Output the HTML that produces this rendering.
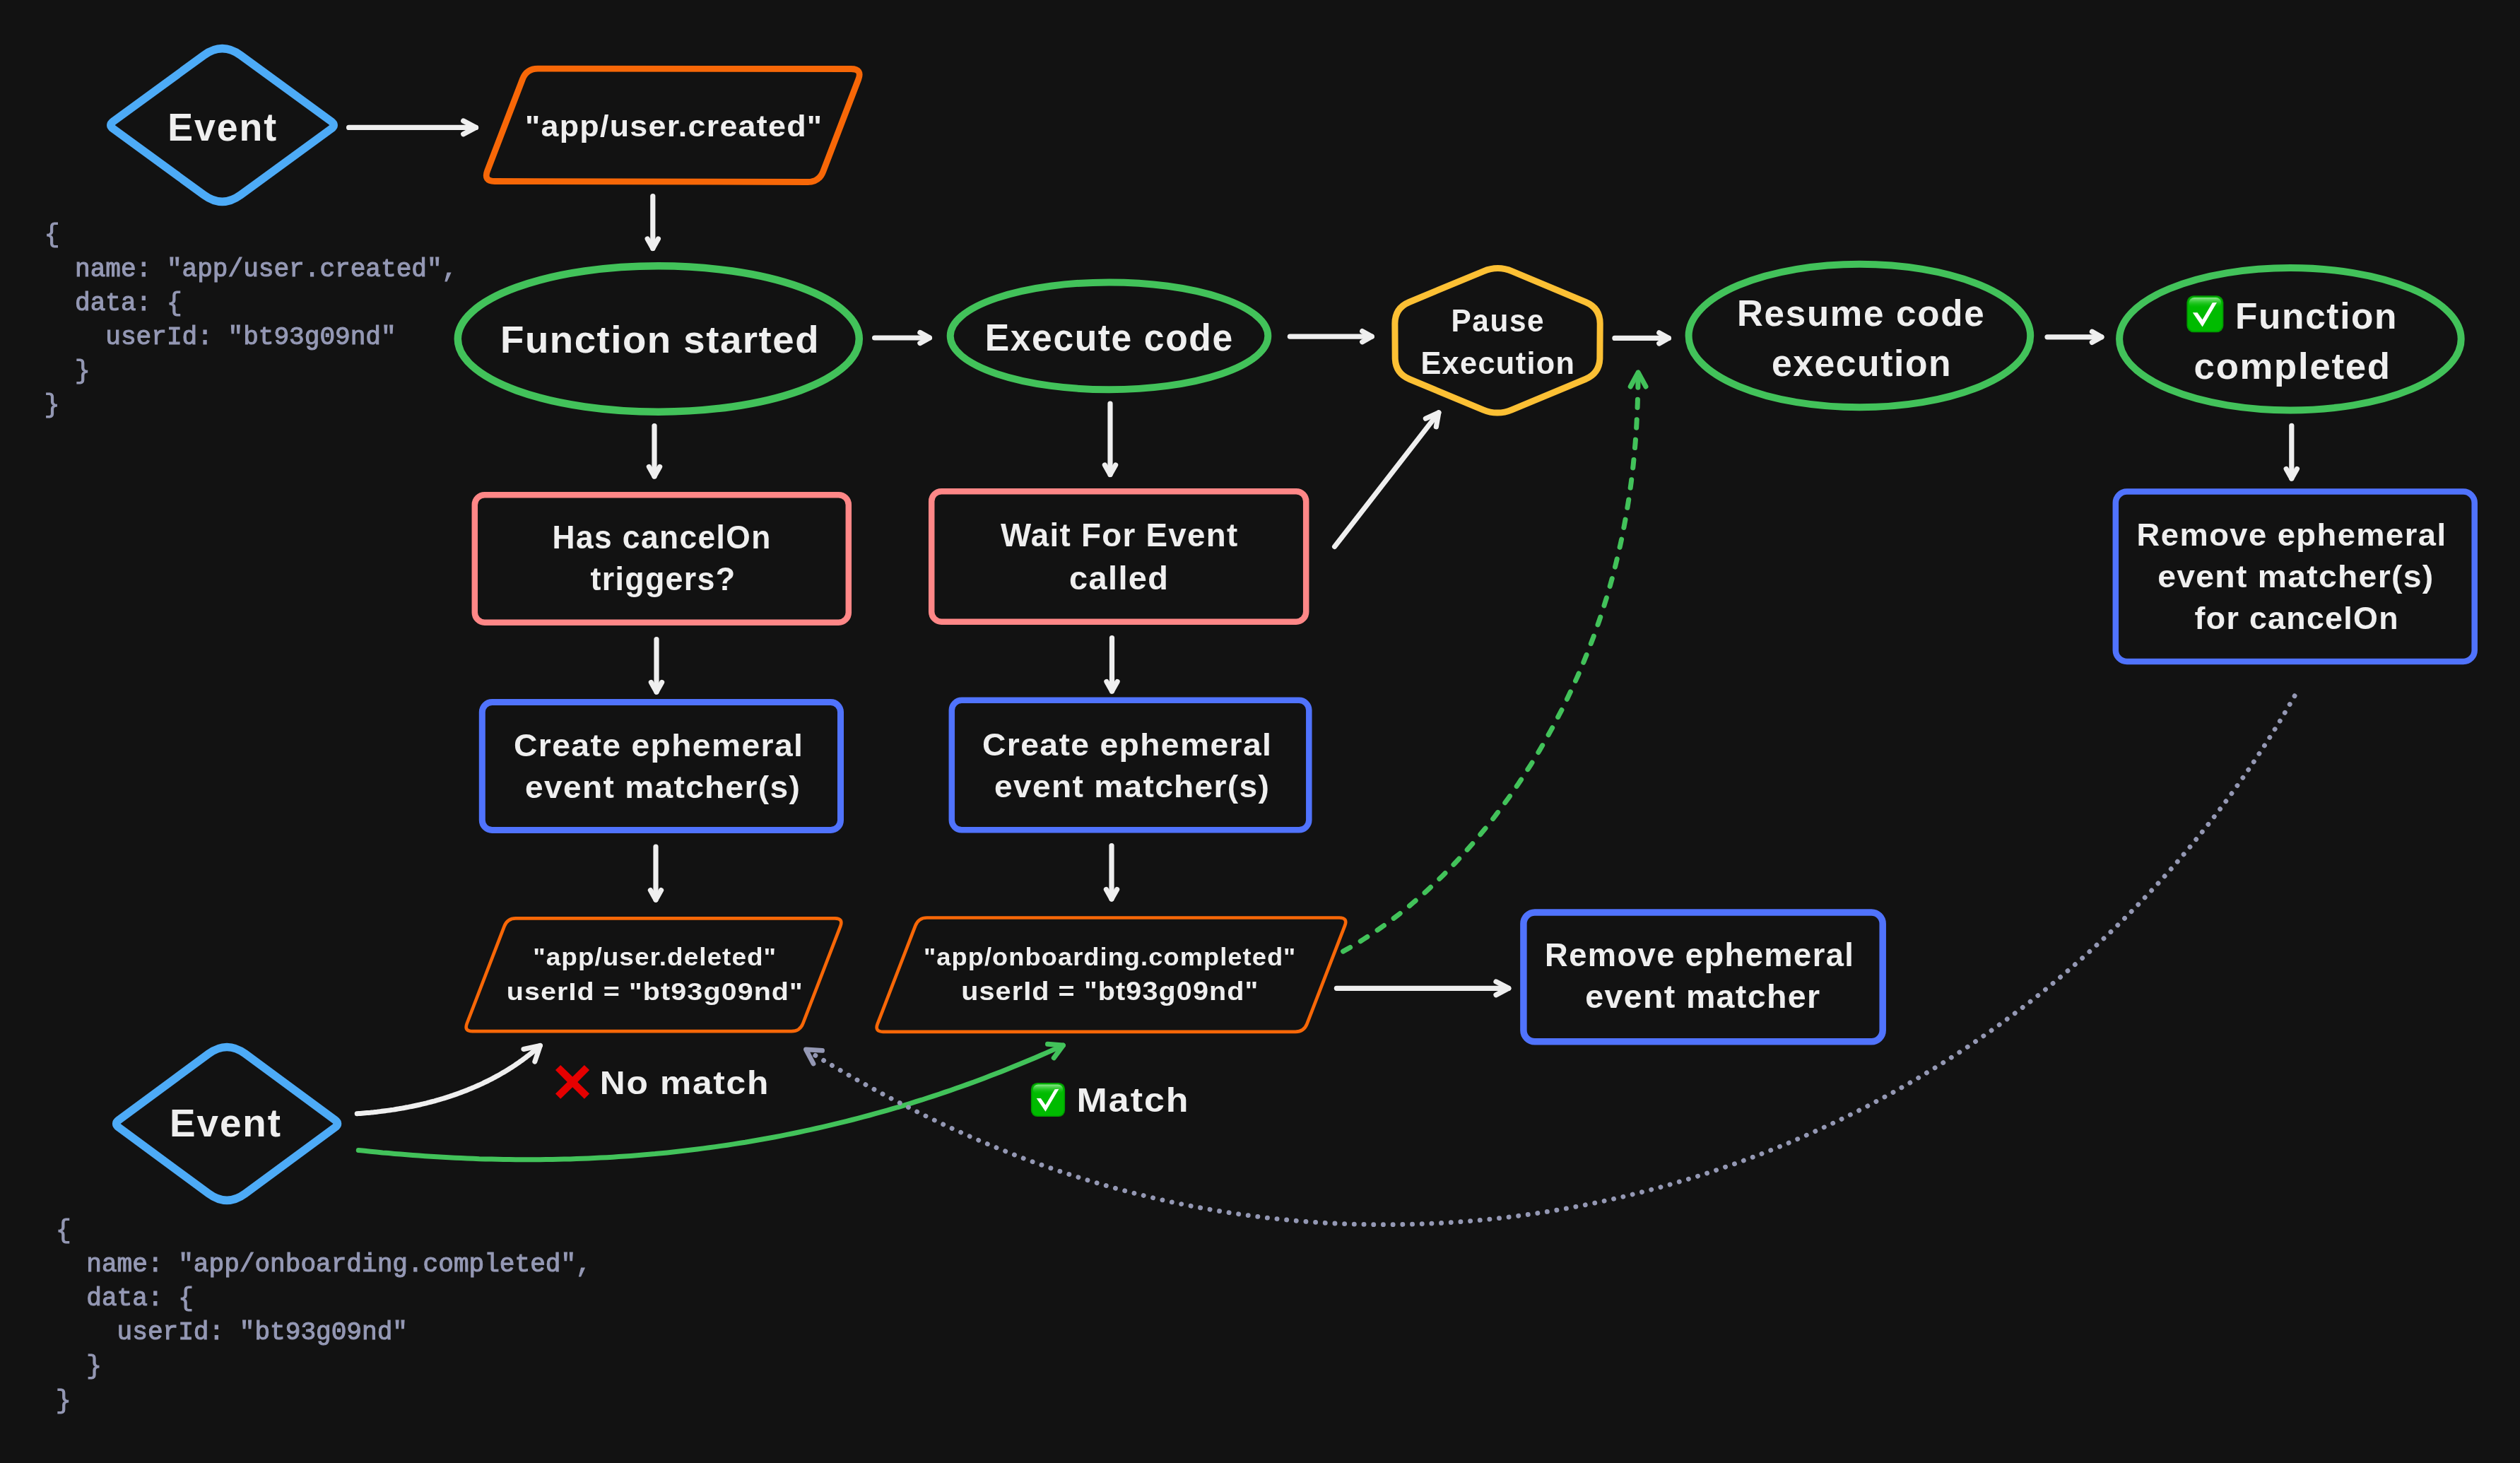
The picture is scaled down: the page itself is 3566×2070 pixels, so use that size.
<!DOCTYPE html>
<html><head><meta charset="utf-8"><title>Diagram</title>
<style>html,body{margin:0;padding:0;background:#121212;overflow:hidden}svg{display:block;will-change:transform}</style>
</head><body>
<svg width="3566" height="2070" viewBox="0 0 3566 2070">
<defs><linearGradient id="hl" x1="0" y1="0" x2="0" y2="1"><stop offset="0" stop-color="#a8f0a8" stop-opacity="0.85"/><stop offset="1" stop-color="#00bb00" stop-opacity="0"/></linearGradient></defs>
<rect width="3566" height="2070" fill="#121212"/>
<path d="M340.4,78.1 L468.7,171.7 Q476,177 468.7,182.3 L340.4,275.9 Q314.5,294.8 288.6,275.9 L160.3,182.3 Q153,177 160.3,171.7 L288.6,78.1 Q314.5,59.2 340.4,78.1 Z" fill="none" stroke="#4dabf7" stroke-width="11.3" stroke-linejoin="round"/>
<path d="M761.1,97.2 L1204.4,97.5 Q1220.4,97.5 1214.7,112.4 L1164.8,242.6 Q1159.1,257.5 1143.1,257.5 L700,256.5 Q684,256.5 689.7,241.6 L739.4,112.1 Q745.1,97.2 761.1,97.2 Z" fill="none" stroke="#f76707" stroke-width="8.8" stroke-linejoin="round"/>
<ellipse cx="931.8" cy="479.5" rx="284" ry="103.2" fill="none" stroke="#42c25a" stroke-width="10.5"/>
<ellipse cx="1569.5" cy="475.3" rx="224.8" ry="75.9" fill="none" stroke="#42c25a" stroke-width="10"/>
<ellipse cx="2631.4" cy="475" rx="241.8" ry="101.3" fill="none" stroke="#42c25a" stroke-width="10"/>
<ellipse cx="3240.9" cy="479.7" rx="241.8" ry="100.7" fill="none" stroke="#42c25a" stroke-width="10"/>
<path d="M2139.8,383.8 L2244,427.5 Q2264.3,436 2264.2,458 L2263.9,506 Q2263.8,528 2243.5,536.5 L2139.3,579.8 Q2119,588.3 2098.7,579.8 L1994.6,536.5 Q1974.3,528 1974.2,506 L1973.9,458 Q1973.8,436 1994.1,427.5 L2099.2,383.8 Q2119.5,375.3 2139.8,383.8 Z" fill="none" stroke="#fcc034" stroke-width="9" stroke-linejoin="round"/>
<rect x="671.8" y="700.2" width="529" height="180.5" rx="14" fill="none" stroke="#ff8787" stroke-width="8.5"/>
<rect x="1318.2" y="695.2" width="530" height="184.5" rx="14" fill="none" stroke="#ff8787" stroke-width="8.5"/>
<rect x="682.3" y="993.5" width="507.2" height="181" rx="14" fill="none" stroke="#5073fd" stroke-width="9"/>
<rect x="1346.8" y="990.8" width="505.5" height="183.5" rx="14" fill="none" stroke="#5073fd" stroke-width="8.5"/>
<rect x="2155.9" y="1291" width="508.3" height="182.8" rx="16" fill="none" stroke="#5073fd" stroke-width="9.5"/>
<rect x="2993.8" y="695.6" width="507.9" height="240.3" rx="16" fill="none" stroke="#5073fd" stroke-width="8.5"/>
<path d="M729.9,1299.4 L1181.5,1299.4 Q1193.5,1299.4 1189.2,1310.6 L1136.3,1448 Q1132,1459.2 1120,1459.2 L668.5,1459.2 Q656.5,1459.2 660.8,1448 L713.6,1310.6 Q717.9,1299.4 729.9,1299.4 Z" fill="none" stroke="#f76707" stroke-width="4.7" stroke-linejoin="round"/>
<path d="M1311.7,1298.5 L1895.4,1298.5 Q1907.4,1298.5 1903.1,1309.7 L1849.5,1448.6 Q1845.2,1459.8 1833.2,1459.8 L1249.5,1459.8 Q1237.5,1459.8 1241.8,1448.6 L1295.4,1309.7 Q1299.7,1298.5 1311.7,1298.5 Z" fill="none" stroke="#f76707" stroke-width="4.7" stroke-linejoin="round"/>
<path d="M346.9,1490.9 L474,1584.6 Q481.3,1589.9 474,1595.2 L346.9,1688.9 Q321.1,1707.8 295.3,1688.9 L168.2,1595.2 Q160.9,1589.9 168.2,1584.6 L295.3,1490.9 Q321.1,1472 346.9,1490.9 Z" fill="none" stroke="#4dabf7" stroke-width="11.3" stroke-linejoin="round"/>
<path d="M493.6,180.4 L673.5,180.4" stroke="#efefef" stroke-width="7.2" stroke-linecap="round"/>
<path d="M655.7,189.8 L673.5,180.4 L655.7,171" fill="none" stroke="#efefef" stroke-width="7.2" stroke-linecap="round" stroke-linejoin="round"/>
<path d="M923.8,277.6 L923.8,351.4" stroke="#efefef" stroke-width="7.2" stroke-linecap="round"/>
<path d="M916.2,337.9 L923.8,351.4 L931.4,337.9" fill="none" stroke="#efefef" stroke-width="7.2" stroke-linecap="round" stroke-linejoin="round"/>
<path d="M1237.6,478 L1315.4,478" stroke="#efefef" stroke-width="7.2" stroke-linecap="round"/>
<path d="M1301.9,485.6 L1315.4,478 L1301.9,470.4" fill="none" stroke="#efefef" stroke-width="7.2" stroke-linecap="round" stroke-linejoin="round"/>
<path d="M1825.4,476.2 L1941.2,476.2" stroke="#efefef" stroke-width="7.2" stroke-linecap="round"/>
<path d="M1927.7,483.8 L1941.2,476.2 L1927.7,468.6" fill="none" stroke="#efefef" stroke-width="7.2" stroke-linecap="round" stroke-linejoin="round"/>
<path d="M2284.9,478.4 L2361.3,478.4" stroke="#efefef" stroke-width="7.2" stroke-linecap="round"/>
<path d="M2347.8,486 L2361.3,478.4 L2347.8,470.8" fill="none" stroke="#efefef" stroke-width="7.2" stroke-linecap="round" stroke-linejoin="round"/>
<path d="M2897,476.8 L2973.9,476.8" stroke="#efefef" stroke-width="7.2" stroke-linecap="round"/>
<path d="M2960.4,484.4 L2973.9,476.8 L2960.4,469.2" fill="none" stroke="#efefef" stroke-width="7.2" stroke-linecap="round" stroke-linejoin="round"/>
<path d="M926,602.6 L926,673.9" stroke="#efefef" stroke-width="7.2" stroke-linecap="round"/>
<path d="M918.4,660.4 L926,673.9 L933.6,660.4" fill="none" stroke="#efefef" stroke-width="7.2" stroke-linecap="round" stroke-linejoin="round"/>
<path d="M1571,571.1 L1571,671.4" stroke="#efefef" stroke-width="7.2" stroke-linecap="round"/>
<path d="M1563.4,657.9 L1571,671.4 L1578.6,657.9" fill="none" stroke="#efefef" stroke-width="7.2" stroke-linecap="round" stroke-linejoin="round"/>
<path d="M929,904.6 L929,978.9" stroke="#efefef" stroke-width="7.2" stroke-linecap="round"/>
<path d="M921.4,965.4 L929,978.9 L936.6,965.4" fill="none" stroke="#efefef" stroke-width="7.2" stroke-linecap="round" stroke-linejoin="round"/>
<path d="M1573.5,902.6 L1573.5,977.9" stroke="#efefef" stroke-width="7.2" stroke-linecap="round"/>
<path d="M1565.9,964.4 L1573.5,977.9 L1581.1,964.4" fill="none" stroke="#efefef" stroke-width="7.2" stroke-linecap="round" stroke-linejoin="round"/>
<path d="M928,1198 L928,1273.1" stroke="#efefef" stroke-width="7.2" stroke-linecap="round"/>
<path d="M920.4,1259.6 L928,1273.1 L935.6,1259.6" fill="none" stroke="#efefef" stroke-width="7.2" stroke-linecap="round" stroke-linejoin="round"/>
<path d="M1573,1196.6 L1573,1272" stroke="#efefef" stroke-width="7.2" stroke-linecap="round"/>
<path d="M1565.4,1258.5 L1573,1272 L1580.6,1258.5" fill="none" stroke="#efefef" stroke-width="7.2" stroke-linecap="round" stroke-linejoin="round"/>
<path d="M3242.8,602.3 L3242.8,676.9" stroke="#efefef" stroke-width="7.2" stroke-linecap="round"/>
<path d="M3235.2,663.4 L3242.8,676.9 L3250.4,663.4" fill="none" stroke="#efefef" stroke-width="7.2" stroke-linecap="round" stroke-linejoin="round"/>
<path d="M1888.6,773.4 L2035.8,583.9" stroke="#efefef" stroke-width="7.2" stroke-linecap="round"/>
<path d="M2032.3,603.8 L2035.8,583.9 L2017.4,592.2" fill="none" stroke="#efefef" stroke-width="7.2" stroke-linecap="round" stroke-linejoin="round"/>
<path d="M1891.4,1398.3 L2134.8,1398.3" stroke="#efefef" stroke-width="7.2" stroke-linecap="round"/>
<path d="M2117,1407.7 L2134.8,1398.3 L2117,1388.9" fill="none" stroke="#efefef" stroke-width="7.2" stroke-linecap="round" stroke-linejoin="round"/>
<path d="M505.2,1575.7 L507.5,1575.5 L509.9,1575.4 L512.2,1575.2 L514.6,1575 L516.9,1574.8 L519.3,1574.6 L521.6,1574.4 L524,1574.2 L526.3,1573.9 L528.7,1573.7 L531,1573.4 L533.4,1573.2 L535.7,1572.9 L538.1,1572.6 L540.4,1572.3 L542.8,1572 L545.1,1571.7 L547.5,1571.4 L549.8,1571.1 L552.2,1570.8 L554.5,1570.4 L556.9,1570.1 L559.2,1569.7 L561.6,1569.3 L563.9,1568.9 L566.2,1568.5 L568.6,1568.1 L570.9,1567.7 L573.2,1567.3 L575.6,1566.8 L577.9,1566.4 L580.2,1565.9 L582.6,1565.5 L584.9,1565 L587.2,1564.5 L589.5,1564 L591.9,1563.5 L594.2,1563 L596.5,1562.4 L598.8,1561.9 L601.1,1561.3 L603.4,1560.8 L605.7,1560.2 L608,1559.6 L610.3,1559 L612.6,1558.4 L614.9,1557.8 L617.2,1557.1 L619.5,1556.5 L621.7,1555.8 L624,1555.2 L626.3,1554.5 L628.5,1553.8 L630.8,1553.1 L633.1,1552.4 L635.3,1551.7 L637.6,1550.9 L639.8,1550.2 L642.1,1549.4 L644.3,1548.6 L646.5,1547.9 L648.7,1547.1 L651,1546.2 L653.2,1545.4 L655.4,1544.6 L657.6,1543.7 L659.8,1542.9 L662,1542 L664.2,1541.1 L666.4,1540.2 L668.5,1539.3 L670.7,1538.4 L672.9,1537.4 L675,1536.5 L677.2,1535.5 L679.3,1534.6 L681.5,1533.6 L683.6,1532.6 L685.7,1531.5 L687.9,1530.5 L690,1529.5 L692.1,1528.4 L694.2,1527.4 L696.3,1526.3 L698.4,1525.2 L700.4,1524.1 L702.5,1522.9 L704.6,1521.8 L706.6,1520.7 L708.7,1519.5 L710.7,1518.3 L712.8,1517.1 L714.8,1515.9 L716.8,1514.7 L718.8,1513.5 L720.8,1512.2 L722.8,1510.9 L724.8,1509.7 L726.8,1508.4 L728.8,1507.1 L730.7,1505.7 L732.7,1504.4 L734.6,1503.1 L736.5,1501.7 L738.5,1500.3 L740.4,1498.9 L742.3,1497.5 L744.2,1496.1 L746.1,1494.6 L747.9,1493.2 L749.8,1491.7 L751.7,1490.2 L753.5,1488.7 L755.4,1487.2 L757.2,1485.7 L759,1484.1 L760.8,1482.6 L762.6,1481 L764.4,1479.4" fill="none" stroke="#efefef" stroke-width="7" stroke-linecap="round"/>
<path d="M756.8,1502.2 L764.4,1479.4 L740.9,1484.5" fill="none" stroke="#efefef" stroke-width="7" stroke-linecap="round" stroke-linejoin="round"/>
<path d="M507.3,1627.4 L515.8,1628.3 L524.3,1629.2 L532.8,1630 L541.4,1630.9 L549.9,1631.6 L558.4,1632.4 L567,1633.1 L575.5,1633.8 L584.1,1634.5 L592.6,1635.1 L601.2,1635.7 L609.7,1636.3 L618.3,1636.8 L626.8,1637.3 L635.4,1637.8 L644,1638.2 L652.5,1638.6 L661.1,1639 L669.7,1639.3 L678.3,1639.7 L686.8,1639.9 L695.4,1640.1 L704,1640.3 L712.6,1640.5 L721.2,1640.6 L729.8,1640.7 L738.3,1640.8 L746.9,1640.8 L755.5,1640.8 L764.1,1640.7 L772.7,1640.6 L781.3,1640.5 L789.8,1640.3 L798.4,1640.1 L807,1639.9 L815.6,1639.6 L824.2,1639.3 L832.7,1639 L841.3,1638.6 L849.9,1638.1 L858.5,1637.7 L867,1637.2 L875.6,1636.6 L884.1,1636 L892.7,1635.4 L901.3,1634.8 L909.8,1634.1 L918.4,1633.3 L926.9,1632.6 L935.4,1631.7 L944,1630.9 L952.5,1630 L961,1629.1 L969.6,1628.1 L978.1,1627.1 L986.6,1626 L995.1,1624.9 L1003.6,1623.8 L1012.1,1622.6 L1020.6,1621.4 L1029.1,1620.2 L1037.5,1618.9 L1046,1617.5 L1054.5,1616.2 L1062.9,1614.7 L1071.4,1613.3 L1079.8,1611.8 L1088.3,1610.3 L1096.7,1608.7 L1105.1,1607.1 L1113.5,1605.4 L1121.9,1603.7 L1130.3,1602 L1138.7,1600.2 L1147.1,1598.4 L1155.4,1596.5 L1163.8,1594.6 L1172.2,1592.7 L1180.5,1590.7 L1188.8,1588.7 L1197.2,1586.6 L1205.5,1584.5 L1213.8,1582.4 L1222.1,1580.2 L1230.3,1578 L1238.6,1575.7 L1246.9,1573.4 L1255.1,1571.1 L1263.4,1568.7 L1271.6,1566.3 L1279.8,1563.8 L1288,1561.3 L1296.2,1558.7 L1304.4,1556.2 L1312.5,1553.5 L1320.7,1550.9 L1328.8,1548.2 L1337,1545.4 L1345.1,1542.7 L1353.2,1539.8 L1361.3,1537 L1369.3,1534.1 L1377.4,1531.2 L1385.5,1528.2 L1393.5,1525.2 L1401.5,1522.1 L1409.5,1519 L1417.5,1515.9 L1425.5,1512.8 L1433.4,1509.6 L1441.4,1506.3 L1449.3,1503.1 L1457.2,1499.7 L1465.1,1496.4 L1473,1493 L1480.9,1489.6 L1488.7,1486.1 L1496.6,1482.6 L1504.4,1479.1" fill="none" stroke="#42c25a" stroke-width="7" stroke-linecap="round"/>
<path d="M1491.3,1496.8 L1504.4,1479.1 L1482.5,1477.3" fill="none" stroke="#42c25a" stroke-width="7" stroke-linecap="round" stroke-linejoin="round"/>
<path d="M1900.6,1346.1 L1907.7,1342.1 L1914.7,1338.1 L1921.7,1333.9 L1928.5,1329.6 L1935.3,1325.3 L1942.1,1320.8 L1948.8,1316.3 L1955.4,1311.7 L1961.9,1307 L1968.4,1302.2 L1974.8,1297.4 L1981.2,1292.4 L1987.4,1287.4 L1993.7,1282.4 L1999.8,1277.2 L2005.9,1272 L2012,1266.7 L2018,1261.3 L2023.9,1255.9 L2029.7,1250.4 L2035.5,1244.8 L2041.3,1239.2 L2047,1233.5 L2052.6,1227.8 L2058.2,1222 L2063.7,1216.1 L2069.1,1210.2 L2074.5,1204.2 L2079.9,1198.2 L2085.2,1192.1 L2090.4,1186 L2095.5,1179.8 L2100.7,1173.6 L2105.7,1167.3 L2110.7,1161 L2115.7,1154.7 L2120.5,1148.2 L2125.4,1141.8 L2130.1,1135.3 L2134.9,1128.7 L2139.5,1122.2 L2144.1,1115.5 L2148.7,1108.9 L2153.1,1102.2 L2157.6,1095.4 L2161.9,1088.6 L2166.3,1081.8 L2170.5,1075 L2174.7,1068.1 L2178.9,1061.1 L2182.9,1054.2 L2187,1047.2 L2190.9,1040.2 L2194.8,1033.1 L2198.7,1026 L2202.5,1018.9 L2206.2,1011.7 L2209.9,1004.6 L2213.5,997.4 L2217,990.1 L2220.5,982.8 L2223.9,975.6 L2227.3,968.2 L2230.6,960.9 L2233.9,953.5 L2237,946.1 L2240.2,938.7 L2243.2,931.2 L2246.2,923.8 L2249.2,916.3 L2252,908.8 L2254.9,901.2 L2257.6,893.6 L2260.3,886.1 L2262.9,878.5 L2265.5,870.8 L2268,863.2 L2270.4,855.5 L2272.8,847.8 L2275.1,840.1 L2277.4,832.4 L2279.5,824.6 L2281.7,816.9 L2283.7,809.1 L2285.7,801.3 L2287.6,793.5 L2289.5,785.7 L2291.3,777.8 L2293.1,770 L2294.8,762.1 L2296.4,754.2 L2297.9,746.3 L2299.4,738.4 L2300.9,730.5 L2302.2,722.5 L2303.5,714.6 L2304.8,706.6 L2306,698.7 L2307.1,690.7 L2308.2,682.7 L2309.2,674.7 L2310.2,666.7 L2311.1,658.7 L2311.9,650.7 L2312.7,642.6 L2313.4,634.6 L2314.1,626.6 L2314.7,618.5 L2315.3,610.5 L2315.8,602.4 L2316.2,594.4 L2316.6,586.3 L2317,578.3 L2317.3,570.2 L2317.5,562.2 L2317.8,554.1 L2317.9,546.1 L2318,538 L2318.1,530" fill="none" stroke="#42c25a" stroke-width="7" stroke-linecap="round" stroke-dasharray="11.5 17"/>
<path d="M2329,547 L2318.1,526.9 L2307.2,547" fill="none" stroke="#42c25a" stroke-width="7" stroke-linecap="round" stroke-linejoin="round"/>
<path d="M3247.1,984.6 L3237,1002.1 L3226.7,1019.5 L3216.1,1036.7 L3205.2,1053.8 L3194.1,1070.7 L3182.8,1087.5 L3171.2,1104.2 L3159.4,1120.7 L3147.4,1137 L3135.1,1153.2 L3122.6,1169.2 L3109.9,1185 L3097,1200.7 L3083.9,1216.2 L3070.5,1231.5 L3057,1246.6 L3043.2,1261.5 L3029.2,1276.2 L3015.1,1290.7 L3000.7,1305.1 L2986.2,1319.2 L2971.4,1333.1 L2956.5,1346.8 L2941.4,1360.3 L2926.1,1373.6 L2910.6,1386.7 L2895,1399.6 L2879.2,1412.3 L2863.2,1424.7 L2847,1436.9 L2830.7,1448.9 L2814.2,1460.7 L2797.6,1472.2 L2780.8,1483.6 L2763.9,1494.6 L2746.8,1505.5 L2729.5,1516.1 L2712.2,1526.5 L2694.6,1536.7 L2677,1546.6 L2659.2,1556.2 L2641.3,1565.7 L2623.2,1574.9 L2605.1,1583.8 L2586.8,1592.5 L2568.3,1600.9 L2549.8,1609.1 L2531.2,1617.1 L2512.4,1624.8 L2493.6,1632.2 L2474.6,1639.4 L2455.6,1646.4 L2436.4,1653 L2417.2,1659.5 L2397.9,1665.6 L2378.4,1671.5 L2359,1677.2 L2339.4,1682.5 L2319.8,1687.6 L2300,1692.5 L2280.3,1697 L2260.4,1701.3 L2240.5,1705.4 L2220.6,1709.1 L2200.6,1712.6 L2180.6,1715.8 L2160.5,1718.7 L2140.4,1721.4 L2120.2,1723.8 L2100,1725.9 L2079.8,1727.7 L2059.6,1729.2 L2039.3,1730.5 L2019.1,1731.5 L1998.8,1732.2 L1978.5,1732.6 L1958.2,1732.7 L1938,1732.6 L1917.7,1732.1 L1897.4,1731.4 L1877.2,1730.4 L1857,1729.1 L1836.8,1727.5 L1816.6,1725.6 L1796.4,1723.5 L1776.3,1721 L1756.3,1718.3 L1736.2,1715.3 L1716.2,1712 L1696.3,1708.4 L1676.4,1704.6 L1656.6,1700.5 L1636.8,1696 L1617.1,1691.3 L1597.5,1686.4 L1577.9,1681.1 L1558.5,1675.6 L1539,1669.8 L1519.7,1663.8 L1500.5,1657.5 L1481.3,1650.9 L1462.2,1644.1 L1443.2,1637 L1424.4,1629.6 L1405.6,1622 L1386.9,1614.2 L1368.3,1606.1 L1349.8,1597.8 L1331.4,1589.3 L1313.1,1580.6 L1294.9,1571.6 L1276.8,1562.4 L1258.8,1553.1 L1240.9,1543.5 L1223.2,1533.7 L1205.5,1523.8 L1188,1513.7 L1170.5,1503.4 L1153.2,1493" fill="none" stroke="#9498b4" stroke-width="6.8" stroke-linecap="round" stroke-dasharray="0.1 13.6"/>
<path d="M1163.6,1486.4 L1140.4,1484.8 L1151,1505" fill="none" stroke="#9498b4" stroke-width="6.8" stroke-linecap="round" stroke-linejoin="round"/>
<text transform="translate(237.2,198.6) scale(0.977,1)" font-family="Liberation Sans, sans-serif" font-weight="bold" font-size="55" fill="#efefef" textLength="157.66" lengthAdjust="spacing">Event</text>
<text transform="translate(743,193) scale(1.068,1)" font-family="Liberation Sans, sans-serif" font-weight="bold" font-size="42" fill="#efefef" textLength="393.32" lengthAdjust="spacing">&quot;app/user.created&quot;</text>
<text transform="translate(708,499) scale(1.012,1)" font-family="Liberation Sans, sans-serif" font-weight="bold" font-size="54" fill="#efefef" textLength="445.26" lengthAdjust="spacing">Function started</text>
<text transform="translate(1393.8,496) scale(0.956,1)" font-family="Liberation Sans, sans-serif" font-weight="bold" font-size="54" fill="#efefef" textLength="366.46" lengthAdjust="spacing">Execute code</text>
<text transform="translate(2053.4,468.5) scale(0.962,1)" font-family="Liberation Sans, sans-serif" font-weight="bold" font-size="44" fill="#efefef" textLength="136.45" lengthAdjust="spacing">Pause</text>
<text transform="translate(2010.4,528.5) scale(0.983,1)" font-family="Liberation Sans, sans-serif" font-weight="bold" font-size="44" fill="#efefef" textLength="221.32" lengthAdjust="spacing">Execution</text>
<text transform="translate(2458,461.2) scale(0.982,1)" font-family="Liberation Sans, sans-serif" font-weight="bold" font-size="52" fill="#efefef" textLength="355.94" lengthAdjust="spacing">Resume code</text>
<text transform="translate(2507,532.2) scale(0.992,1)" font-family="Liberation Sans, sans-serif" font-weight="bold" font-size="52" fill="#efefef" textLength="255.53" lengthAdjust="spacing">execution</text>
<text transform="translate(3163,465.3) scale(0.989,1)" font-family="Liberation Sans, sans-serif" font-weight="bold" font-size="52" fill="#efefef" textLength="231.07" lengthAdjust="spacing">Function</text>
<text transform="translate(3104.6,535.8) scale(1.013,1)" font-family="Liberation Sans, sans-serif" font-weight="bold" font-size="52" fill="#efefef" textLength="273.75" lengthAdjust="spacing">completed</text>
<text transform="translate(781.6,776.3) scale(0.964,1)" font-family="Liberation Sans, sans-serif" font-weight="bold" font-size="46" fill="#efefef" textLength="320.23" lengthAdjust="spacing">Has cancelOn</text>
<text transform="translate(835.6,835.4) scale(0.975,1)" font-family="Liberation Sans, sans-serif" font-weight="bold" font-size="46" fill="#efefef" textLength="209.84" lengthAdjust="spacing">triggers?</text>
<text transform="translate(1416,772.5) scale(0.994,1)" font-family="Liberation Sans, sans-serif" font-weight="bold" font-size="46" fill="#efefef" textLength="337.15" lengthAdjust="spacing">Wait For Event</text>
<text transform="translate(1513,834) scale(1.020,1)" font-family="Liberation Sans, sans-serif" font-weight="bold" font-size="46" fill="#efefef" textLength="137.25" lengthAdjust="spacing">called</text>
<text transform="translate(727,1070) scale(1.052,1)" font-family="Liberation Sans, sans-serif" font-weight="bold" font-size="44" fill="#efefef" textLength="388.72" lengthAdjust="spacing">Create ephemeral</text>
<text transform="translate(743,1129) scale(1.049,1)" font-family="Liberation Sans, sans-serif" font-weight="bold" font-size="44" fill="#efefef" textLength="370.66" lengthAdjust="spacing">event matcher(s)</text>
<text transform="translate(1390,1069) scale(1.052,1)" font-family="Liberation Sans, sans-serif" font-weight="bold" font-size="44" fill="#efefef" textLength="388.72" lengthAdjust="spacing">Create ephemeral</text>
<text transform="translate(1407,1127.5) scale(1.049,1)" font-family="Liberation Sans, sans-serif" font-weight="bold" font-size="44" fill="#efefef" textLength="370.66" lengthAdjust="spacing">event matcher(s)</text>
<text transform="translate(754.2,1365.6) scale(1.027,1)" font-family="Liberation Sans, sans-serif" font-weight="bold" font-size="36" fill="#efefef" textLength="334.90" lengthAdjust="spacing">&quot;app/user.deleted&quot;</text>
<text transform="translate(716.8,1414.8) scale(1.096,1)" font-family="Liberation Sans, sans-serif" font-weight="bold" font-size="36" fill="#efefef" textLength="382.27" lengthAdjust="spacing">userId = &quot;bt93g09nd&quot;</text>
<text transform="translate(1307,1365.6) scale(1.008,1)" font-family="Liberation Sans, sans-serif" font-weight="bold" font-size="36" fill="#efefef" textLength="522.14" lengthAdjust="spacing">&quot;app/onboarding.completed&quot;</text>
<text transform="translate(1360.2,1414.8) scale(1.099,1)" font-family="Liberation Sans, sans-serif" font-weight="bold" font-size="36" fill="#efefef" textLength="382.27" lengthAdjust="spacing">userId = &quot;bt93g09nd&quot;</text>
<text transform="translate(240,1608) scale(0.996,1)" font-family="Liberation Sans, sans-serif" font-weight="bold" font-size="55" fill="#efefef" textLength="157.66" lengthAdjust="spacing">Event</text>
<text transform="translate(848.8,1548.3) scale(1.081,1)" font-family="Liberation Sans, sans-serif" font-weight="bold" font-size="46" fill="#efefef" textLength="220.59" lengthAdjust="spacing">No match</text>
<text transform="translate(1523.6,1573.1) scale(1.082,1)" font-family="Liberation Sans, sans-serif" font-weight="bold" font-size="48" fill="#efefef" textLength="146.00" lengthAdjust="spacing">Match</text>
<text transform="translate(2186,1367.3) scale(0.984,1)" font-family="Liberation Sans, sans-serif" font-weight="bold" font-size="46" fill="#efefef" textLength="444.03" lengthAdjust="spacing">Remove ephemeral</text>
<text transform="translate(2243.2,1426) scale(1.011,1)" font-family="Liberation Sans, sans-serif" font-weight="bold" font-size="46" fill="#efefef" textLength="328.29" lengthAdjust="spacing">event matcher</text>
<text transform="translate(3023.6,772.3) scale(1.030,1)" font-family="Liberation Sans, sans-serif" font-weight="bold" font-size="44" fill="#efefef" textLength="424.74" lengthAdjust="spacing">Remove ephemeral</text>
<text transform="translate(3053.2,831.2) scale(1.052,1)" font-family="Liberation Sans, sans-serif" font-weight="bold" font-size="44" fill="#efefef" textLength="370.66" lengthAdjust="spacing">event matcher(s)</text>
<text transform="translate(3105.6,890) scale(1.017,1)" font-family="Liberation Sans, sans-serif" font-weight="bold" font-size="44" fill="#efefef" textLength="283.09" lengthAdjust="spacing">for cancelOn</text>
<g transform="translate(3094.4,418.3) scale(1.0788)">
<rect x="0" y="0" width="48.2" height="48.2" rx="9" fill="#009a00"/>
<rect x="1.6" y="1.6" width="45" height="45" rx="8" fill="#00bb00"/>
<rect x="3" y="2.6" width="42.2" height="14" rx="7" fill="url(#hl)"/>
<path d="M7.8,22.2 L14,22.2 L20.6,31.5 L33.7,9.3 L39.5,8.9 L20.6,40.9 Z" fill="#ffffff"/>
</g>
<g transform="translate(1458.9,1531.9) scale(1.0000)">
<rect x="0" y="0" width="48.2" height="48.2" rx="9" fill="#009a00"/>
<rect x="1.6" y="1.6" width="45" height="45" rx="8" fill="#00bb00"/>
<rect x="3" y="2.6" width="42.2" height="14" rx="7" fill="url(#hl)"/>
<path d="M7.8,22.2 L14,22.2 L20.6,31.5 L33.7,9.3 L39.5,8.9 L20.6,40.9 Z" fill="#ffffff"/>
</g>
<path d="M786,1514.1 L793.2,1507 L810.2,1523.5 L826.9,1507 L834.1,1514.1 L817.3,1530.9 L834.1,1547.6 L826.9,1554.8 L810.2,1538.3 L793.2,1554.8 L786,1547.6 L802.8,1530.9 Z" fill="#e50000"/>
<text x="62.7" y="342.3" font-family="Liberation Mono, monospace" font-size="36.1" fill="#9498b4" stroke="#9498b4" stroke-width="1.1" xml:space="preserve">{</text>
<text x="62.7" y="390.5" font-family="Liberation Mono, monospace" font-size="36.1" fill="#9498b4" stroke="#9498b4" stroke-width="1.1" xml:space="preserve">  name: &quot;app/user.created&quot;,</text>
<text x="62.7" y="438.7" font-family="Liberation Mono, monospace" font-size="36.1" fill="#9498b4" stroke="#9498b4" stroke-width="1.1" xml:space="preserve">  data: {</text>
<text x="62.7" y="486.9" font-family="Liberation Mono, monospace" font-size="36.1" fill="#9498b4" stroke="#9498b4" stroke-width="1.1" xml:space="preserve">    userId: &quot;bt93g09nd&quot;</text>
<text x="62.7" y="535.1" font-family="Liberation Mono, monospace" font-size="36.1" fill="#9498b4" stroke="#9498b4" stroke-width="1.1" xml:space="preserve">  }</text>
<text x="62.7" y="583.3" font-family="Liberation Mono, monospace" font-size="36.1" fill="#9498b4" stroke="#9498b4" stroke-width="1.1" xml:space="preserve">}</text>
<text x="79" y="1750.5" font-family="Liberation Mono, monospace" font-size="36.1" fill="#9498b4" stroke="#9498b4" stroke-width="1.1" xml:space="preserve">{</text>
<text x="79" y="1798.7" font-family="Liberation Mono, monospace" font-size="36.1" fill="#9498b4" stroke="#9498b4" stroke-width="1.1" xml:space="preserve">  name: &quot;app/onboarding.completed&quot;,</text>
<text x="79" y="1846.9" font-family="Liberation Mono, monospace" font-size="36.1" fill="#9498b4" stroke="#9498b4" stroke-width="1.1" xml:space="preserve">  data: {</text>
<text x="79" y="1895.1" font-family="Liberation Mono, monospace" font-size="36.1" fill="#9498b4" stroke="#9498b4" stroke-width="1.1" xml:space="preserve">    userId: &quot;bt93g09nd&quot;</text>
<text x="79" y="1943.3" font-family="Liberation Mono, monospace" font-size="36.1" fill="#9498b4" stroke="#9498b4" stroke-width="1.1" xml:space="preserve">  }</text>
<text x="79" y="1991.5" font-family="Liberation Mono, monospace" font-size="36.1" fill="#9498b4" stroke="#9498b4" stroke-width="1.1" xml:space="preserve">}</text>
</svg>
</body></html>
